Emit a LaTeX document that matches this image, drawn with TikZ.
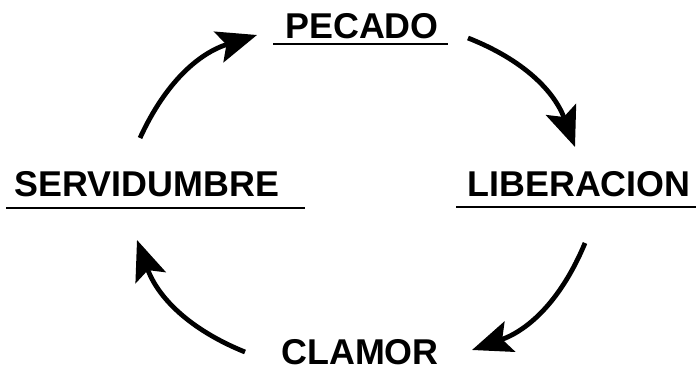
\documentclass[tikz,border=0pt]{standalone}
\usepackage{fontspec}
\setmainfont{Liberation Sans}
\usetikzlibrary{arrows.meta}

\begin{document}
\begin{tikzpicture}[x=0.025cm, y=-0.025cm,
    word/.style={anchor=base, inner sep=0pt, font=\fontsize{25.5}{30}\selectfont\bfseries},
    flecha/.style={line width=3.4pt, -{Stealth[length=10mm, width=8mm, inset=2mm]}},
    raya/.style={line width=0.8pt}]
    \useasboundingbox (0,0) rectangle (696,372);
    \node[word] at (362,39) (Pec) {PECADO};
    \node[word] at (147,197) (Ser) {SERVIDUMBRE};
    \node[word] at (579,197) (Lib) {LIBERACION};
    \node[word] at (360,365) (Cla) {CLAMOR};
    \coordinate (a0) at (140,138);
    \coordinate (a1) at (257,35);
    \coordinate (b0) at (468,38);
    \coordinate (b1) at (575,147);
    \coordinate (c0) at (585,243);
    \coordinate (c1) at (472,350);
    \coordinate (d0) at (245,352);
    \coordinate (d1) at (137,240);
    \draw[raya] (273,44) -- (448,44);
    \draw[raya] (6,208) -- (305,208);
    \draw[raya] (456,207) -- (696,207);
    \path [flecha] (a0) edge[bend left=24] (a1);
    \path [flecha] (b0) edge[bend left=24] (b1);
    \path [flecha] (c0) edge[bend left=24] (c1);
    \path [flecha] (d0) edge[bend left=24] (d1);
\end{tikzpicture}
\end{document}
